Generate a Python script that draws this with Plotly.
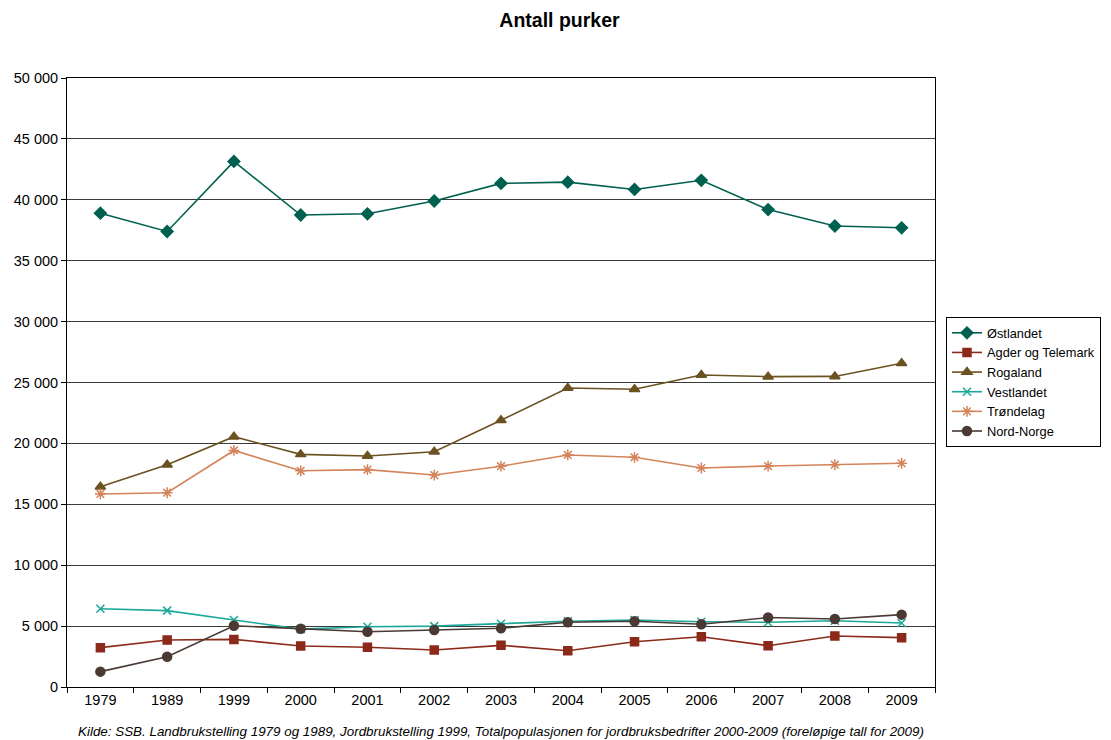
import plotly.graph_objects as go

years = ["1979", "1989", "1999", "2000", "2001", "2002", "2003", "2004", "2005", "2006", "2007", "2008", "2009"]

ostlandet = [38900, 37400, 43150, 38750, 38850, 39900, 41350, 41450, 40850, 41600, 39200, 37850, 37700]
agder_telemark = [3230, 3860, 3910, 3370, 3260, 3040, 3420, 2980, 3720, 4130, 3390, 4190, 4050]
rogaland = [16450, 18250, 20550, 19100, 18970, 19320, 21900, 24550, 24450, 25620, 25480, 25500, 26580]
vestlandet = [6430, 6270, 5500, 4750, 4950, 5000, 5200, 5400, 5500, 5360, 5310, 5440, 5260]
trondelag = [15850, 15950, 19420, 17750, 17850, 17400, 18130, 19050, 18860, 17980, 18140, 18250, 18370]
nord_norge = [1260, 2490, 5030, 4780, 4540, 4680, 4820, 5310, 5400, 5150, 5700, 5580, 5940]

series = [
    ("Østlandet", ostlandet, "#00604F", "diamond", 9),
    ("Agder og Telemark", agder_telemark, "#8B2A1A", "square", 8),
    ("Rogaland", rogaland, "#6B5221", "triangle-up", 9),
    ("Vestlandet", vestlandet, "#1BA89B", "x-thin-open", 8),
    ("Trøndelag", trondelag, "#D4845A", "asterisk-open", 9),
    ("Nord-Norge", nord_norge, "#4A3A33", "circle", 9),
]

fig = go.Figure()
for name, vals, color, sym, size in series:
    fig.add_trace(go.Scatter(
        x=years, y=vals, name=name, mode="lines+markers",
        line=dict(color=color, width=1.6),
        marker=dict(symbol=sym, size=size, color=color,
                    line=dict(color=color, width=1.5)),
    ))

fig.update_layout(
    width=1103, height=732,
    paper_bgcolor="white", plot_bgcolor="white",
    font=dict(family="Liberation Sans, Arial, sans-serif", size=14.5, color="black"),
    separators=", ",
    title=dict(text="<b>Antall purker</b>", x=0.5, xanchor="center", y=0.984, yanchor="middle",
               font=dict(size=19.5)),
    margin=dict(l=59, r=176, t=70, b=53, autoexpand=False),
    showlegend=True,
    legend=dict(xref="container", yref="container", x=0.8504, y=0.5779,
                xanchor="left", yanchor="top",
                bordercolor="black", borderwidth=1, bgcolor="white",
                font=dict(size=12.8), tracegroupgap=0, itemwidth=30),
    annotations=[dict(
        text="<i>Kilde: SSB. Landbrukstelling 1979 og 1989, Jordbrukstelling 1999, Totalpopulasjonen for jordbruksbedrifter 2000-2009 (foreløpige tall for 2009)</i>",
        xref="paper", yref="paper", x=0.5, y=-0.058, xanchor="center", yanchor="top",
        showarrow=False, font=dict(size=13.4))],
)

fig.update_xaxes(type="category", range=[-0.5, 12.5], showline=True, linecolor="black",
                 linewidth=1, mirror=True, ticks="outside", ticklen=5, tickcolor="black",
                 tickson="boundaries", showgrid=False, automargin=False)
fig.update_yaxes(range=[0, 50000], dtick=5000, tickformat=",d", showline=True,
                 linecolor="black", linewidth=1, mirror=True, ticks="outside", ticklen=5,
                 tickcolor="black", showgrid=True, gridcolor="#3a3a3a", gridwidth=1,
                 zeroline=False, automargin=False)

fig.write_html("out.html")
